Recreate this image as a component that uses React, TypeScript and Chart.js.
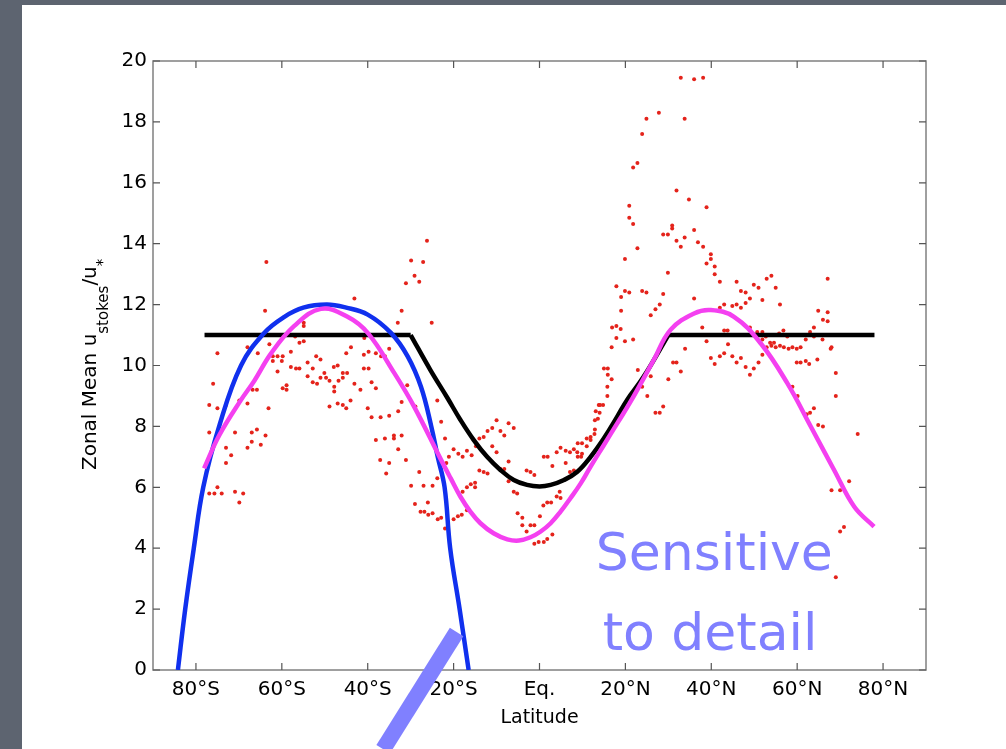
import React, { useEffect, useRef } from 'react';
import { Chart, registerables } from 'chart.js';

Chart.register(...registerables);

const FONT = '"DejaVu Sans", "Liberation Sans", sans-serif';

// ---- axes ----
const xTickValues = [-80, -60, -40, -20, 0, 20, 40, 60, 80];
const xTickLabels = ['80°S', '60°S', '40°S', '20°S', 'Eq.', '20°N', '40°N', '60°N', '80°N'];
const yTickValues = [0, 2, 4, 6, 8, 10, 12, 14, 16, 18, 20];
const xTitle = 'Latitude';
const yTitleParts: [string, boolean][] = [
  ['Zonal Mean u', false],
  ['stokes', true],
  ['/u', false],
  ['*', true],
];

// ---- black curve (flat plateaus + equatorial dip) ----
const blackFlatLat = [-78, -30, 0, 30, 78];
const blackFlatVal = [11, 11, null, 11, 11];
const blackDipLat = [-30, -25.4, -21.5, -18.4, -15.3, -12.2, -9.1, -6, -2.9, 0, 2.6, 5.7, 8.8, 11.9, 15, 18.1, 20.4, 24.2, 30];
const blackDipVal = [11, 9.85, 8.95, 8.21, 7.55, 7.0, 6.57, 6.24, 6.08, 6.03, 6.08, 6.24, 6.51, 7.0, 7.61, 8.32, 8.87, 9.62, 11];

// ---- blue curve ----
const blueLat = [-84.2, -82.5, -80.5, -78.3, -74.6, -69.5, -64.1, -59.4, -55, -49.5, -45, -40, -34.6, -30.7, -27.6, -25.2, -23.7, -22.1, -20.8, -18.6, -16.5];
const blueVal = [0, 2, 4, 6, 8, 10, 11.07, 11.6, 11.9, 12, 11.9, 11.67, 11.07, 10.3, 9.3, 8, 7, 6, 4, 2, 0];

// ---- magenta curve ----
const magentaLat = [-78.1, -74.6, -69.5, -66.4, -62.5, -57.1, -50.9, -44.7, -40, -33.8, -29.2, -23.1, -20.7, -18.4, -16.1, -13.75, -10.7, -7.5, -4.8, -2.1, 0.2, 2.6, 4.9, 7.2, 9.6, 11.9, 15, 18.1, 21.2, 26.6, 30.5, 36, 39.9, 45.3, 51.5, 57.7, 63.2, 68.6, 73.3, 77.9];
const magentaVal = [6.62, 7.7, 8.87, 9.5, 10.4, 11.3, 11.86, 11.6, 11.07, 9.75, 8.65, 6.95, 6.3, 5.69, 5.2, 4.82, 4.49, 4.29, 4.25, 4.36, 4.54, 4.82, 5.2, 5.64, 6.13, 6.68, 7.39, 8.1, 8.81, 10.18, 11.17, 11.71, 11.82, 11.6, 10.73, 9.42, 7.99, 6.57, 5.36, 4.71];

// ---- red scatter (latitude, value) ----
const redDots: [number, number][] = [
  [-63.6, 13.4], [-63.9, 11.8], [-43.1, 12.2], [-32.1, 11.8], [-33.0, 11.4], [-25.1, 11.4],
  [-75.0, 10.4], [-76.0, 9.4], [-76.9, 8.7], [-75.0, 8.6], [-73.0, 8.7],
  [-76.9, 7.8], [-73.0, 7.3], [-71.8, 7.05], [-73.0, 6.8], [-70.9, 7.8],
  [-76.9, 5.8], [-75.7, 5.8], [-75.0, 6.0], [-74.0, 5.8], [-70.9, 5.85], [-69.0, 5.8], [-69.9, 5.5],
  [-68.0, 10.6], [-69.9, 8.85], [-68.0, 8.75], [-66.8, 9.2], [-65.8, 9.2], [-65.8, 7.9], [-67.0, 7.8], [-67.0, 7.5], [-68.0, 7.3], [-64.9, 7.4], [-63.8, 7.7], [-63.1, 8.6],
  [-65.6, 10.4], [-62.9, 10.7], [-62.1, 10.3], [-61.0, 10.3], [-59.8, 10.3], [-61.0, 9.8], [-62.1, 10.15], [-60.0, 10.15], [-59.8, 9.25], [-58.9, 9.2], [-58.9, 9.35],
  [-57.9, 10.45], [-57.9, 9.95], [-56.7, 9.9], [-55.9, 9.9], [-55.9, 10.75], [-54.9, 10.8], [-56.9, 10.95], [-54.9, 11.4], [-54.9, 11.3],
  [-54.0, 10.1], [-54.0, 9.65], [-52.8, 9.9], [-52.0, 10.3], [-51.0, 10.2], [-52.8, 9.45], [-51.8, 9.4], [-51.0, 9.6], [-50.1, 9.75], [-49.7, 9.6], [-48.9, 9.5],
  [-47.9, 9.95], [-47.0, 10.0], [-47.8, 9.3], [-47.8, 9.15], [-46.8, 9.5], [-45.8, 9.6], [-45.8, 9.75], [-44.8, 9.75], [-45.0, 10.4], [-43.9, 10.6],
  [-43.1, 9.4], [-41.7, 9.2], [-44.0, 8.85], [-45.8, 8.7], [-47.0, 8.75], [-45.0, 8.6], [-48.9, 8.65],
  [-40.9, 9.9], [-39.8, 9.9], [-39.1, 9.45], [-38.1, 9.25], [-40.0, 8.6], [-40.9, 10.35], [-39.8, 10.45], [-38.1, 10.4], [-36.9, 10.3], [-36.0, 10.3], [-35.0, 10.55], [-40.8, 10.9],
  [-39.1, 8.3], [-37.0, 8.3], [-35.0, 8.35], [-32.9, 8.5], [-32.1, 8.8], [-30.8, 9.35], [-28.9, 8.65],
  [-33.9, 7.7], [-33.9, 7.6], [-36.0, 7.6], [-38.1, 7.55], [-32.1, 7.7], [-32.9, 7.25], [-31.1, 6.9], [-35.0, 6.8], [-37.1, 6.9], [-35.7, 6.45],
  [-28.0, 6.5], [-29.9, 6.05], [-27.0, 6.05], [-24.9, 6.05], [-29.0, 5.45], [-27.7, 5.2], [-26.8, 5.2], [-26.0, 5.5], [-25.9, 5.1], [-24.9, 5.15], [-23.7, 4.95], [-22.9, 5.0], [-22.0, 4.65],
  [-23.8, 8.85], [-22.9, 8.15], [-22.0, 7.6], [-21.7, 6.8], [-23.8, 6.3], [-21.1, 7.0], [-20.0, 7.25], [-18.9, 7.1], [-17.9, 7.0], [-16.9, 7.2], [-15.8, 7.05], [-14.8, 7.35], [-14.0, 7.6], [-14.0, 6.55],
  [-17.9, 5.85], [-16.9, 6.0], [-16.0, 6.1], [-15.0, 6.15], [-15.0, 6.0], [-16.9, 5.25], [-18.1, 5.1], [-20.0, 4.95], [-19.0, 5.05],
  [-26.2, 14.1], [-29.9, 13.45], [-27.1, 13.4], [-29.1, 12.95], [-28.0, 12.75], [-31.1, 12.7],
  [-13.0, 7.65], [-12.1, 7.85], [-11.0, 7.95], [-10.0, 8.2], [-9.1, 7.85], [-8.2, 7.7], [-7.2, 8.1], [-6.0, 7.95], [-11.0, 7.35], [-10.0, 7.15],
  [-13.0, 6.5], [-12.1, 6.45], [-9.1, 6.6], [-8.2, 6.6], [-7.2, 6.85], [-7.2, 6.2], [-6.0, 5.85], [-5.2, 5.8], [-5.1, 5.15], [-4.0, 5.0], [-4.0, 4.75], [-3.0, 4.55], [-2.1, 4.75], [-1.2, 4.75],
  [-3.0, 6.55], [-2.1, 6.5], [-1.2, 6.4], [0.1, 5.05], [0.9, 5.4], [1.8, 5.5], [2.7, 5.5], [4.0, 5.7], [4.7, 5.85], [4.9, 5.65],
  [-1.2, 4.15], [-0.2, 4.2], [1.0, 4.2], [1.8, 4.3], [3.0, 4.45], [1.0, 7.0], [1.9, 7.0], [3.0, 6.7], [4.0, 7.15], [4.9, 7.3], [6.1, 7.2], [6.1, 6.8], [7.1, 6.5], [8.0, 6.55],
  [8.9, 7.45], [9.9, 7.45], [11.0, 7.6], [11.9, 7.65], [12.8, 7.75], [13.6, 8.25], [13.1, 8.5], [13.8, 8.7], [8.8, 7.15], [9.7, 7.0],
  [7.1, 7.15], [8.0, 7.25], [8.9, 7.0], [9.9, 7.1], [11.0, 7.35], [11.9, 7.55], [12.9, 7.9], [12.9, 8.2],
  [14.0, 8.45], [14.8, 8.7], [14.1, 8.7], [15.8, 9.0],
  [32.9, 19.45], [36.0, 19.4], [38.1, 19.45], [27.8, 18.3], [24.9, 18.1], [33.8, 18.1], [23.9, 17.6], [22.8, 16.65], [21.8, 16.5],
  [31.9, 15.75], [34.8, 15.45], [38.9, 15.2], [20.9, 15.25], [20.9, 14.85], [21.8, 14.65], [30.9, 14.6], [30.9, 14.5], [28.8, 14.3], [29.9, 14.3],
  [31.9, 14.1], [33.8, 14.2], [36.0, 14.45], [32.9, 13.9], [36.9, 14.05], [38.1, 13.9], [22.8, 13.85], [19.9, 13.5], [39.9, 13.65], [39.9, 13.5],
  [38.9, 13.35], [40.8, 13.25], [40.8, 13.0], [42.0, 12.75], [29.9, 13.05], [17.9, 12.6], [19.9, 12.45], [20.9, 12.4], [23.9, 12.45], [24.9, 12.4],
  [28.8, 12.35], [19.0, 12.25], [19.0, 11.8], [28.0, 12.0], [27.0, 11.85], [25.9, 11.65], [16.9, 11.25], [17.9, 11.3], [18.9, 11.2], [17.9, 10.9],
  [19.9, 10.8], [21.8, 10.85], [16.8, 10.6], [36.0, 12.2], [37.9, 11.25], [38.9, 10.8], [33.9, 10.55], [45.9, 12.75], [46.9, 12.45], [48.0, 12.4],
  [49.0, 12.2], [49.9, 12.65], [51.0, 12.55], [48.0, 12.05], [46.9, 11.9], [44.9, 11.95], [45.9, 12.0], [43.0, 12.0], [42.0, 11.9], [43.8, 11.15],
  [43.0, 11.15], [49.0, 11.25], [50.7, 11.1], [43.9, 10.7], [43.0, 10.4], [42.0, 10.3], [39.9, 10.25], [40.8, 10.05], [44.9, 10.3], [45.9, 10.1],
  [46.9, 10.25], [48.0, 9.95], [49.0, 9.7], [49.9, 9.9], [51.0, 10.1], [31.1, 10.1], [31.9, 10.1], [32.9, 9.8], [30.0, 9.55], [15.0, 9.9],
  [15.9, 9.9], [15.9, 9.7], [16.8, 9.55], [15.8, 9.3], [22.9, 9.85], [25.9, 9.65],
  [23.9, 9.3], [25.1, 9.0], [27.0, 8.45], [28.0, 8.45], [28.8, 8.65],
  [51.9, 10.35], [52.9, 10.6], [54.0, 10.65], [55.0, 10.6], [56.0, 10.65], [56.9, 10.6], [58.0, 10.55], [58.9, 10.6], [59.9, 10.55], [60.8, 10.6],
  [59.9, 10.1], [60.8, 10.1], [62.0, 10.15], [62.8, 10.05], [64.7, 10.2], [67.8, 10.55], [69.0, 9.75], [69.0, 9.0], [74.1, 7.75], [58.9, 9.3],
  [60.1, 9.0], [62.2, 8.4], [63.0, 8.45], [63.9, 8.6], [64.9, 8.05], [66.0, 8.0], [68.0, 5.9], [70.0, 5.9], [72.1, 6.2], [70.0, 4.55],
  [70.9, 4.7], [69.0, 3.05], [67.1, 12.85], [64.9, 11.8], [67.1, 11.75], [66.0, 11.5], [67.1, 11.45], [63.9, 11.25], [63.0, 11.1], [62.0, 10.85],
  [63.9, 10.95], [65.9, 10.85], [68.0, 10.6], [56.8, 11.15], [57.7, 10.95], [55.8, 11.05], [52.7, 10.95], [51.9, 10.85], [53.7, 10.75], [54.6, 10.75],
  [52.9, 12.85], [54.0, 12.95], [55.0, 12.55], [56.0, 12.0], [51.9, 12.15], [51.9, 11.1],
];

// ---- slide annotation (data coordinates) ----
const arrowFrom: [number, number] = [-19.3, 1.25];
const arrowTo: [number, number] = [-36.4, -2.6];
const noteLines = ['Sensitive', 'to detail'];
const noteAnchors: [number, number][] = [[13.1, 3.28], [14.7, 0.66]];

const toXY = (lat: number[], val: (number | null)[]) => lat.map((x, i) => ({ x, y: val[i] }));

const framePlugin = {
  id: 'matlabFrame',
  beforeDatasetsDraw(chart: any) {
    const { ctx, chartArea: a, scales } = chart;
    ctx.save();
    ctx.strokeStyle = '#808080';
    ctx.lineWidth = 1.5;
    ctx.strokeRect(a.left, a.top, a.right - a.left, a.bottom - a.top);
    ctx.strokeStyle = '#555555';
    ctx.lineWidth = 1.2;
    ctx.beginPath();
    xTickValues.forEach((v) => {
      const px = scales.x.getPixelForValue(v);
      ctx.moveTo(px, a.bottom);
      ctx.lineTo(px, a.bottom - 7);
      ctx.moveTo(px, a.top);
      ctx.lineTo(px, a.top + 7);
    });
    yTickValues.forEach((v) => {
      const py = scales.y.getPixelForValue(v);
      ctx.moveTo(a.left, py);
      ctx.lineTo(a.left + 7, py);
      ctx.moveTo(a.right, py);
      ctx.lineTo(a.right - 7, py);
    });
    ctx.stroke();
    ctx.restore();
  },
  afterDraw(chart: any) {
    const { ctx, chartArea: a, scales } = chart;
    // y axis title with subscripts
    ctx.save();
    ctx.translate(a.left - 57, a.bottom - 200);
    ctx.rotate(-Math.PI / 2);
    ctx.fillStyle = '#000';
    ctx.textAlign = 'left';
    ctx.textBaseline = 'alphabetic';
    let off = 0;
    yTitleParts.forEach(([t, sub]) => {
      ctx.font = sub ? `15px ${FONT}` : `20px ${FONT}`;
      ctx.fillText(t, off, sub ? 12 : 0);
      off += ctx.measureText(t).width;
    });
    ctx.restore();

    // arrow bar
    ctx.save();
    ctx.strokeStyle = '#8080ff';
    ctx.lineWidth = 16;
    ctx.lineCap = 'butt';
    ctx.beginPath();
    ctx.moveTo(scales.x.getPixelForValue(arrowFrom[0]), scales.y.getPixelForValue(arrowFrom[1]));
    ctx.lineTo(scales.x.getPixelForValue(arrowTo[0]), scales.y.getPixelForValue(arrowTo[1]));
    ctx.stroke();
    // note text
    ctx.fillStyle = '#8080ff';
    ctx.font = `52px ${FONT}`;
    ctx.textAlign = 'left';
    ctx.textBaseline = 'alphabetic';
    noteLines.forEach((t, i) => {
      ctx.fillText(t, scales.x.getPixelForValue(noteAnchors[i][0]), scales.y.getPixelForValue(noteAnchors[i][1]));
    });
    ctx.restore();
  },
};

export default function App() {
  const ref = useRef<HTMLCanvasElement>(null);

  useEffect(() => {
    document.body.style.margin = '0';
    const lineBase = { showLine: true, pointRadius: 0, borderWidth: 4.5, fill: false, tension: 0.4, borderJoinStyle: 'round' };
    const chart = new Chart(ref.current as HTMLCanvasElement, {
      type: 'scatter',
      data: {
        datasets: [
          { ...lineBase, label: 'magenta', data: toXY(magentaLat, magentaVal), borderColor: '#f440f0', order: 0 } as any,
          { ...lineBase, label: 'blue', data: toXY(blueLat, blueVal), borderColor: '#1030ee', order: 1 } as any,
          { ...lineBase, label: 'black dip', data: toXY(blackDipLat, blackDipVal), borderColor: '#000000', order: 2 } as any,
          { ...lineBase, label: 'black flat', data: toXY(blackFlatLat, blackFlatVal), borderColor: '#000000', tension: 0, spanGaps: false, order: 3 } as any,
          {
            label: 'obs',
            data: redDots.map(([x, y]) => ({ x, y })),
            showLine: false,
            pointRadius: 2,
            pointStyle: 'circle',
            backgroundColor: '#e4231b',
            borderWidth: 0,
            order: 10,
          } as any,
        ],
      },
      options: {
        animation: false,
        responsive: false,
        maintainAspectRatio: false,
        layout: { padding: { left: 60, right: 80, top: 61, bottom: 19 } },
        plugins: { legend: { display: false }, tooltip: { enabled: false } },
        scales: {
          x: {
            type: 'linear',
            min: -90,
            max: 90,
            afterBuildTicks: (s: any) => {
              s.ticks = xTickValues.map((v) => ({ value: v }));
            },
            afterFit: (s: any) => {
              s.height = 60;
            },
            ticks: {
              autoSkip: false,
              maxRotation: 0,
              padding: 8,
              color: '#000',
              font: { family: FONT, size: 20 },
              callback: (v: any) => xTickLabels[xTickValues.indexOf(Number(v))] ?? '',
            },
            grid: { display: false, drawTicks: false },
            border: { display: false },
            title: { display: true, text: xTitle, color: '#000', font: { family: FONT, size: 19 }, padding: { top: 0, bottom: 1 } },
          },
          y: {
            type: 'linear',
            min: 0,
            max: 20,
            afterBuildTicks: (s: any) => {
              s.ticks = yTickValues.map((v) => ({ value: v }));
            },
            afterFit: (s: any) => {
              s.width = 93;
            },
            ticks: {
              padding: 6,
              color: '#000',
              font: { family: FONT, size: 20 },
            },
            grid: { display: false, drawTicks: false },
            border: { display: false },
          },
        },
      } as any,
      plugins: [framePlugin],
    });
    return () => chart.destroy();
  }, []);

  return (
    <div style={{ position: 'fixed', left: 0, top: 0, width: 1006, height: 749, background: '#5d6470', overflow: 'hidden' }}>
      <div style={{ position: 'absolute', left: 22, top: 5, width: 984, height: 744, background: '#ffffff' }} />
      <canvas ref={ref} width={1006} height={749} style={{ position: 'absolute', left: 0, top: 0, width: 1006, height: 749 }} />
    </div>
  );
}
